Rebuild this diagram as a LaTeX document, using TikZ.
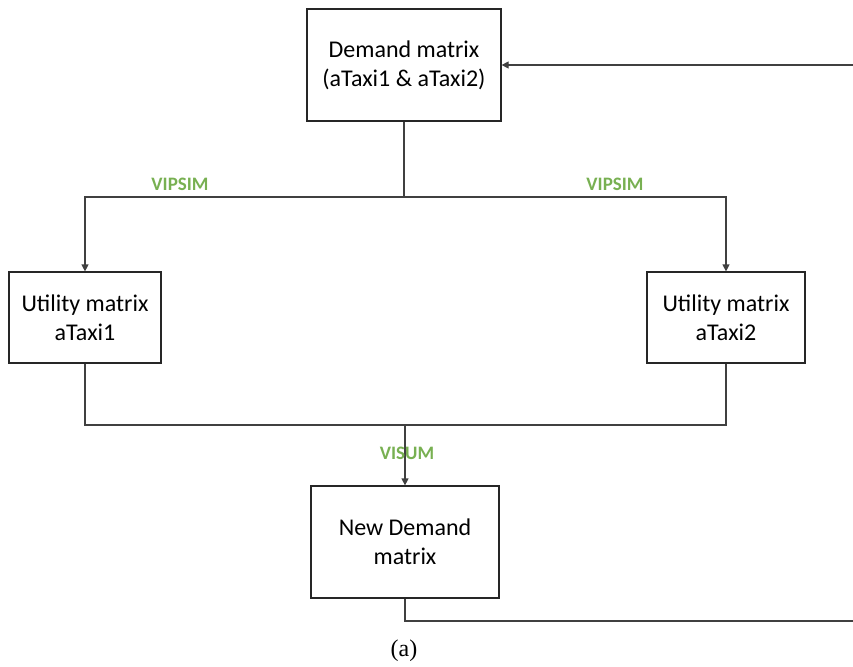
\documentclass[tikz,border=0pt]{standalone}
\usepackage{fontspec}
\setmainfont{Liberation Serif}
\newfontfamily\carlito{Carlito}
\usetikzlibrary{arrows.meta}
\definecolor{lbl}{HTML}{78B052}
\definecolor{ln}{HTML}{404040}
\begin{document}
\begin{tikzpicture}[x=1pt,y=-1pt,
  box/.style={draw=black!85, line width=1.2pt, align=center, inner sep=0pt,
    font=\carlito\fontsize{24}{29}\selectfont},
  conn/.style={draw=ln, line width=1.2pt},
  arr/.style={conn, -{Triangle[width=7pt,length=7pt]}},
  lab/.style={text=lbl, font=\carlito\bfseries\fontsize{19}{22}\selectfont, inner sep=0pt}]
\useasboundingbox (0,0) rectangle (853,666);
\clip (0,0) rectangle (853,666);
\node[box, minimum width=194pt, minimum height=112pt] (dm) at (404,65) {Demand matrix\\(aTaxi1 \& aTaxi2)};
\node[box, minimum width=152pt, minimum height=91pt] (u1) at (85,317.5) {Utility matrix\\aTaxi1};
\node[box, minimum width=158pt, minimum height=91pt] (u2) at (726,317.5) {Utility matrix\\aTaxi2};
\node[box, minimum width=188pt, minimum height=112pt] (nd) at (405,542) {New Demand\\matrix};
\coordinate (split) at (404,197);
\coordinate (join) at (405,425);
\coordinate (fb) at (858,621);
% split
\draw[conn] (dm.south) -- (split);
\draw[arr] (split) -| (u1.north);
\draw[arr] (split) -| (u2.north);
% join
\draw[conn] (u1.south) |- (join);
\draw[conn] (u2.south) |- (join);
\draw[arr] (join) -- (nd.north);
% feedback
\draw[arr] (nd.south) |- (fb) |- (dm.east);
% labels
\node[lab] (l1) at (180,184) {VIPSIM};
\node[lab] (l2) at (615,184) {VIPSIM};
\node[lab] (l3) at (407,453) {VISUM};
\node[font=\fontsize{24}{27}\selectfont, inner sep=0pt] (cap) at (404,651) {(a)};
\end{tikzpicture}
\end{document}
